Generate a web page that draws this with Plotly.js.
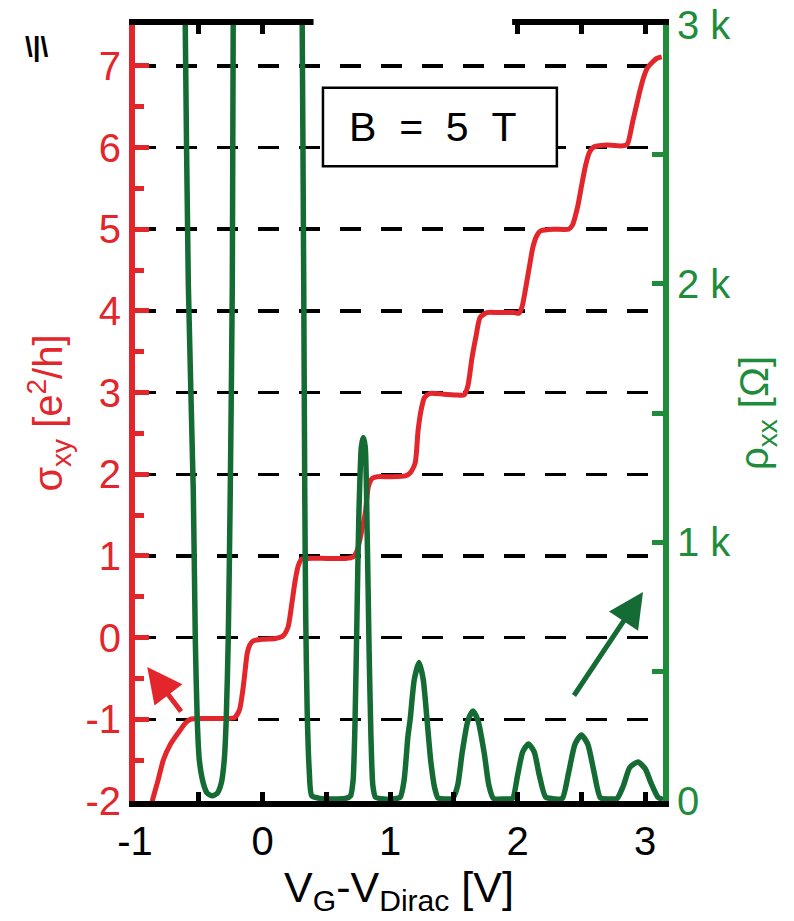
<!DOCTYPE html>
<html>
<head>
<meta charset="utf-8">
<script src="https://cdn.plot.ly/plotly-3.0.1.min.js"></script>
<style>html,body{margin:0;padding:0;background:#fff;}#chart{width:794px;height:921px;}</style>
</head>
<body>
<div id="chart"></div>
<script>
// Hall conductivity sigma_xy (e^2/h) vs gate voltage
const sigmaX = [-0.89,-0.864,-0.82,-0.778,-0.72,-0.645,-0.60,-0.567,-0.45,-0.30,-0.22,-0.18,-0.151,-0.135,-0.12,-0.10,-0.073,0.0,0.10,0.16,0.20,0.23,0.256,0.28,0.305,0.35,0.50,0.65,0.71,0.735,0.75,0.78,0.805,0.83,0.86,0.90,1.00,1.12,1.16,1.197,1.22,1.245,1.27,1.314,1.42,1.53,1.58,1.61,1.643,1.675,1.706,1.76,1.85,1.97,2.01,2.035,2.06,2.09,2.12,2.15,2.18,2.28,2.40,2.43,2.47,2.50,2.53,2.56,2.59,2.70,2.82,2.86,2.90,2.93,2.96,2.99,3.02,3.06,3.09,3.13];
const sigmaY = [-2.25,-2.0,-1.75,-1.5,-1.3,-1.13,-1.04,-1.0,-0.99,-0.99,-0.98,-0.88,-0.6,-0.38,-0.19,-0.09,-0.04,-0.02,-0.01,0.02,0.13,0.42,0.70,0.88,0.96,0.97,0.97,0.97,0.99,1.04,1.11,1.32,1.52,1.85,1.95,1.97,1.97,1.98,2.02,2.14,2.54,2.80,2.94,2.99,2.98,2.97,2.97,3.08,3.43,3.70,3.92,3.98,3.98,3.98,3.97,4.05,4.25,4.52,4.78,4.92,4.98,5.0,5.0,5.05,5.27,5.52,5.76,5.93,6.0,6.03,6.02,6.04,6.3,6.5,6.7,6.87,6.98,7.05,7.09,7.11];

// Longitudinal resistivity rho_xx (Ohm) vs gate voltage
const rhoX = [-1.0,-0.64,-0.606,-0.582,-0.543,-0.527,-0.512,-0.496,-0.465,-0.433,-0.394,-0.355,-0.323,-0.300,-0.285,-0.269,-0.253,-0.237,-0.230,-0.20,0.05,0.28,0.311,0.323,0.331,0.339,0.35,0.366,0.386,0.45,0.55,0.65,0.69,0.71,0.725,0.74,0.755,0.775,0.79,0.805,0.82,0.835,0.85,0.865,0.885,0.95,1.05,1.08,1.11,1.14,1.157,1.19,1.227,1.26,1.29,1.32,1.35,1.375,1.43,1.49,1.53,1.565,1.61,1.65,1.69,1.738,1.775,1.81,1.90,1.96,2.00,2.04,2.085,2.13,2.17,2.22,2.29,2.35,2.40,2.45,2.50,2.55,2.60,2.65,2.72,2.78,2.83,2.88,2.944,3.00,3.05,3.10,3.14];
const rhoY = [8000,5000,3000,2000,1200,622,313,160,70,30,20,30,70,160,313,622,1200,2000,3000,5000,8000,5000,3000,2000,1200,700,350,120,20,10,8,10,20,80,300,700,1100,1370,1405,1370,1050,600,250,60,15,8,10,15,80,250,313,470,535,470,313,150,50,12,8,10,60,186,310,348,310,186,60,10,8,10,100,190,220,190,100,15,8,10,110,220,255,220,110,12,8,10,60,130,151,125,65,15,5];

const rhoTickVals = [0, 1000, 2000, 3000];
const rhoTickText = ['0', '1 k', '2 k', '3 k'];
const sigmaTickVals = [-2, -1, 0, 1, 2, 3, 4, 5, 6, 7];
const xTickVals = [-1, 0, 1, 2, 3];

const RED = '#e3262b';
const GREEN_AX = '#1f8c3b';
const GREEN = '#146c34';
const FONT = 'Arial, "Liberation Sans", sans-serif';

const traces = [
  {x: sigmaX, y: sigmaY, type: 'scatter', mode: 'lines', line: {color: RED, width: 5, shape: 'spline', smoothing: 0.6}, xaxis: 'x', yaxis: 'y', hoverinfo: 'skip'},
  {x: rhoX, y: rhoY, type: 'scatter', mode: 'lines', line: {color: GREEN, width: 5.5, shape: 'spline', smoothing: 0.6}, xaxis: 'x', yaxis: 'y2', hoverinfo: 'skip'}
];

const layout = {
  width: 794, height: 921,
  margin: {l: 135, r: 131, t: 25, b: 120},
  paper_bgcolor: '#fff', plot_bgcolor: '#fff',
  showlegend: false,
  font: {family: FONT, size: 40, color: '#000'},
  xaxis: {
    range: [-1, 3.14], showgrid: false, zeroline: false,
    showline: true, linecolor: '#000', linewidth: 6, mirror: 'ticks',
    ticks: 'inside', ticklen: 9, tickwidth: 5, tickcolor: '#000',
    tickvals: xTickVals, ticktext: xTickVals.map(v => String(v)),
    minor: {dtick: 0.5, tick0: 0, ticks: 'inside', ticklen: 9, tickwidth: 5, tickcolor: '#000'},
    tickfont: {size: 40, color: '#000', family: FONT},
    title: {text: '\u00a0\u00a0V<sub>G</sub>-V<sub>Dirac</sub> [V]', font: {size: 43, color: '#000', family: FONT}, standoff: 8},
    automargin: false
  },
  yaxis: {
    range: [-2, 7.5], zeroline: false,
    showgrid: true, gridcolor: '#000', gridwidth: 3.5, griddash: '21px,20px',
    showline: true, linecolor: RED, linewidth: 6,
    ticks: 'inside', ticklen: 14, tickwidth: 5, tickcolor: RED,
    tickvals: sigmaTickVals, ticktext: sigmaTickVals.map(v => String(v)),
    minor: {dtick: 0.5, tick0: 0, ticks: 'inside', ticklen: 9, tickwidth: 5, tickcolor: RED, showgrid: false},
    tickfont: {size: 40, color: RED, family: FONT},
    title: {text: 'σ<sub>xy</sub> [e<sup>2</sup>/h]', font: {size: 40, color: RED, family: FONT}, standoff: 12},
    automargin: false
  },
  yaxis2: {
    range: [0, 3000], overlaying: 'y', side: 'right', anchor: 'x',
    showgrid: false, zeroline: false,
    showline: true, linecolor: GREEN_AX, linewidth: 6,
    ticks: 'inside', ticklen: 11, tickwidth: 5, tickcolor: GREEN_AX,
    tickvals: rhoTickVals, ticktext: rhoTickText,
    minor: {dtick: 500, tick0: 0, ticks: 'inside', ticklen: 11, tickwidth: 5, tickcolor: GREEN_AX},
    tickfont: {size: 40, color: GREEN_AX, family: FONT},
    title: {text: 'ρ<sub>xx</sub> [Ω]', font: {size: 40, color: GREEN_AX, family: FONT}, standoff: 12},
    automargin: false
  },
  shapes: [
    // gap in the top frame line
    {type: 'rect', xref: 'x', yref: 'paper', x0: 0.40, x1: 1.957, y0: 0.988, y1: 1.02, fillcolor: '#fff', line: {width: 0}, layer: 'above'},
    // field label box
    {type: 'rect', xref: 'paper', yref: 'paper', x0: 0.356, x1: 0.799, y0: 0.818, y1: 0.919, fillcolor: '#fff', line: {color: '#000', width: 2.5}, layer: 'above'}
  ],
  annotations: [
    {xref: 'paper', yref: 'paper', x: 0.564, y: 0.869, xanchor: 'center', yanchor: 'middle', showarrow: false,
     text: 'B\u00a0\u00a0=\u00a0\u00a05\u00a0\u00a0T', font: {size: 41, color: '#000', family: FONT}},
    {xref: 'x', yref: 'y', x: -0.904, y: -0.36, ax: 35, ay: 46, showarrow: true, text: '',
     arrowcolor: RED, arrowwidth: 5, arrowhead: 2, arrowsize: 1.4, standoff: 0},
    {xref: 'x', yref: 'y2', x: 2.983, y: 808, ax: -70, ay: 105, showarrow: true, text: '',
     arrowcolor: GREEN, arrowwidth: 5, arrowhead: 2, arrowsize: 1.4, standoff: 0},
    {xref: 'paper', yref: 'paper', x: -0.186, y: 0.972, xanchor: 'center', yanchor: 'middle', showarrow: false,
     text: '<b>\\|\\</b>', font: {size: 28, color: '#000', family: FONT}}
  ]
};

Plotly.newPlot('chart', traces, layout, {staticPlot: true, displayModeBar: false});
</script>
</body>
</html>
